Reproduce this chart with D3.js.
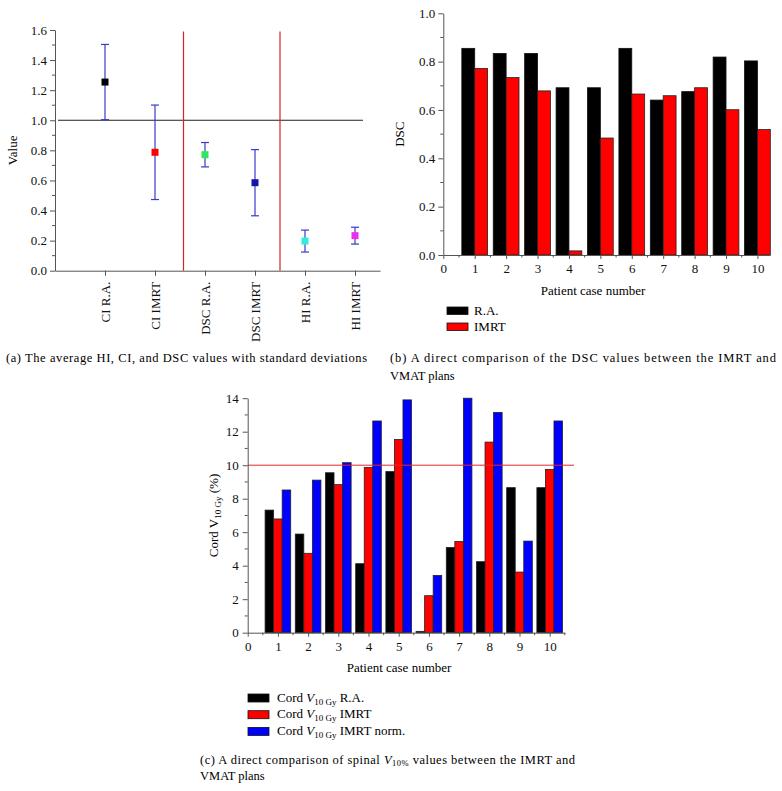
<!DOCTYPE html>
<html>
<head>
<meta charset="utf-8">
<script src="https://cdn.jsdelivr.net/npm/d3@7"></script>
<style>
  body { margin: 0; background: #fff; }
  svg { display: block; font-family: "Liberation Serif", "DejaVu Serif", serif; }
  .axis path, .axis line { stroke: #555; }
  .axis text { font-family: "Liberation Serif", serif; font-size: 13px; fill: #111; }
</style>
</head>
<body>
<svg id="chart" width="782" height="791"></svg>
<script>
// panel (a): means with standard deviations
const catsA = ["CI R.A.", "CI IMRT", "DSC R.A.", "DSC IMRT", "HI R.A.", "HI IMRT"];
const meanA = [1.254, 0.787, 0.771, 0.585, 0.197, 0.233];
const sdA = [0.25, 0.314, 0.081, 0.22, 0.073, 0.056];
const colorA = ["#000000", "#ff0000", "#2ee85a", "#1616a6", "#30ecdc", "#ee2eee"];
const dividersA = [2.57, 4.5];

// panel (b): DSC per patient
const patients = [1, 2, 3, 4, 5, 6, 7, 8, 9, 10];
const dscRA = [0.855, 0.834, 0.834, 0.692, 0.692, 0.855, 0.641, 0.676, 0.819, 0.803];
const dscIMRT = [0.772, 0.734, 0.679, 0.017, 0.484, 0.666, 0.659, 0.692, 0.601, 0.519];

// panel (c): cord V10Gy per patient
const cordRA = [7.32, 5.89, 9.55, 4.12, 9.62, 0.08, 5.09, 4.24, 8.66, 8.66];
const cordIMRT = [6.79, 4.74, 8.84, 9.87, 11.54, 2.21, 5.45, 11.38, 3.62, 9.75];
const cordNorm = [8.52, 9.11, 10.15, 12.64, 13.9, 3.42, 14.05, 13.15, 5.47, 12.64];

const svg = d3.select("#chart");

function minorTicks(g, scale, values, len, orient) {
  values.forEach(v => {
    if (orient === "left") {
      g.append("line").attr("x1", 0).attr("x2", -len)
        .attr("y1", scale(v)).attr("y2", scale(v)).attr("stroke", "#555");
    } else {
      g.append("line").attr("y1", 0).attr("y2", len)
        .attr("x1", scale(v)).attr("x2", scale(v)).attr("stroke", "#555");
    }
  });
}

// ---------- (a) ----------
const xA = d3.scaleLinear().domain([0, 6.5]).range([55, 380]);
const yA = d3.scaleLinear().domain([0, 1.6]).range([270.7, 30]);
const gA = svg.append("g");

gA.append("line").attr("x1", xA(0.06)).attr("x2", xA(6.16))
  .attr("y1", yA(1)).attr("y2", yA(1)).attr("stroke", "#222");

const yAxA = gA.append("g").attr("class", "axis").attr("transform", `translate(${xA(0)},0)`)
  .call(d3.axisLeft(yA).tickValues(d3.range(0, 1.61, 0.2)).tickFormat(d3.format(".1f")).tickSize(5).tickSizeOuter(0));
minorTicks(yAxA, yA, d3.range(0.1, 1.6, 0.2), 3, "left");
yAxA.selectAll("text").attr("x", -8);

const xAxA = gA.append("g").attr("class", "axis").attr("transform", `translate(0,${yA(0)})`)
  .call(d3.axisBottom(xA).tickValues(d3.range(1, 7)).tickFormat((d, i) => catsA[i]).tickSize(5).tickSizeOuter(0));
xAxA.selectAll("text").attr("transform", "rotate(-90)").attr("font-size", 12.5)
  .attr("text-anchor", "end").attr("x", -11).attr("y", 0).attr("dy", "0.35em");

gA.append("text").attr("transform", `translate(17,${yA(0.8)}) rotate(-90)`)
  .attr("text-anchor", "middle").attr("font-size", 13).text("Value");

catsA.forEach((c, i) => {
  const x = xA(i + 1);
  const g = gA.append("g").attr("stroke", "#3a3acb").attr("stroke-width", 1.2);
  g.append("line").attr("x1", x).attr("x2", x).attr("y1", yA(meanA[i] + sdA[i])).attr("y2", yA(meanA[i] - sdA[i]));
  [meanA[i] + sdA[i], meanA[i] - sdA[i]].forEach(v => {
    g.append("line").attr("x1", x - 4).attr("x2", x + 4).attr("y1", yA(v)).attr("y2", yA(v));
  });
  gA.append("rect").attr("x", x - 3.5).attr("y", yA(meanA[i]) - 3.5)
    .attr("width", 7).attr("height", 7).attr("fill", colorA[i]);
});

// red separators between the CI, DSC and HI groups
gA.selectAll("line.divider").data(dividersA).join("line").attr("class", "divider")
  .attr("x1", d => xA(d)).attr("x2", d => xA(d))
  .attr("y1", yA(1.59)).attr("y2", yA(0))
  .style("stroke", "#d0262b").style("stroke-width", 1.2);

svg.append("text").attr("x", 6).attr("y", 362).attr("font-size", 12.5)
  .attr("textLength", 361).attr("lengthAdjust", "spacing")
  .text("(a)  The average HI, CI, and DSC values with standard deviations");

// ---------- (b) ----------
const xB = d3.scaleLinear().domain([0, 10.4]).range([443.3, 770]);
const yB = d3.scaleLinear().domain([0, 1]).range([255, 13.3]);
const gB = svg.append("g");
const wB = 0.41;

patients.forEach((p, i) => {
  gB.append("rect").attr("x", xB(p - wB)).attr("width", xB(wB) - xB(0))
    .attr("y", yB(dscRA[i])).attr("height", yB(0) - yB(dscRA[i]))
    .attr("fill", "#000").attr("stroke", "#111").attr("stroke-width", 0.8);
  gB.append("rect").attr("x", xB(p)).attr("width", xB(wB) - xB(0))
    .attr("y", yB(dscIMRT[i])).attr("height", yB(0) - yB(dscIMRT[i]))
    .attr("fill", "#ff0000").attr("stroke", "#222").attr("stroke-width", 0.8);
});

const yAxB = gB.append("g").attr("class", "axis").attr("transform", `translate(${xB(0)},0)`)
  .call(d3.axisLeft(yB).tickValues(d3.range(0, 1.01, 0.2)).tickFormat(d3.format(".1f")).tickSize(5).tickSizeOuter(0));
minorTicks(yAxB, yB, d3.range(0.1, 1, 0.2), 3, "left");
yAxB.selectAll("text").attr("x", -8);

const xAxB = gB.append("g").attr("class", "axis").attr("transform", `translate(0,${yB(0)})`)
  .call(d3.axisBottom(xB).tickValues(d3.range(0, 11)).tickFormat(d3.format("d")).tickSize(4).tickSizeOuter(0));
minorTicks(xAxB, xB, d3.range(0.5, 10.5, 1), 2.5, "bottom");
xAxB.selectAll("text").attr("y", 9);

gB.append("text").attr("transform", `translate(404,${yB(0.5)}) rotate(-90)`)
  .attr("text-anchor", "middle").attr("font-size", 13).text("DSC");
gB.append("text").attr("x", 593).attr("y", 295).attr("text-anchor", "middle")
  .attr("font-size", 13).text("Patient case number");

const legB = [["R.A.", "#000"], ["IMRT", "#ff0000"]];
legB.forEach((d, i) => {
  gB.append("rect").attr("x", 447).attr("y", 307 + i * 16).attr("width", 21).attr("height", 7.5)
    .attr("fill", d[1]).attr("stroke", "#111").attr("stroke-width", 0.8);
  gB.append("text").attr("x", 474).attr("y", 314.5 + i * 16).attr("font-size", 13).text(d[0]);
});

svg.append("text").attr("x", 390).attr("y", 362).attr("font-size", 12.5)
  .attr("textLength", 386).attr("lengthAdjust", "spacing")
  .text("(b)  A direct comparison of the DSC values between the IMRT and");
svg.append("text").attr("x", 390).attr("y", 379.5).attr("font-size", 12.5).text("VMAT plans");

// ---------- (c) ----------
const xC = d3.scaleLinear().domain([0, 10.5]).range([247.7, 564.8]);
const yC = d3.scaleLinear().domain([0, 14]).range([632.7, 398.2]);
const gC = svg.append("g");
const wC = 0.283;
const seriesC = [[cordRA, "#000000", -1], [cordIMRT, "#ff0000", 0], [cordNorm, "#0000ff", 1]];

seriesC.forEach(([vals, col, off]) => {
  patients.forEach((p, i) => {
    const v = Math.min(vals[i], 14);
    gC.append("rect").attr("x", xC(p + off * wC - wC / 2)).attr("width", xC(wC) - xC(0))
      .attr("y", yC(v)).attr("height", yC(0) - yC(v))
      .attr("fill", col).attr("stroke", "#222").attr("stroke-width", 0.8);
  });
});

gC.append("line").attr("x1", xC(0)).attr("x2", 574)
  .attr("y1", yC(10)).attr("y2", yC(10)).attr("stroke", "#e8262b");

const yAxC = gC.append("g").attr("class", "axis").attr("transform", `translate(${xC(0)},0)`)
  .call(d3.axisLeft(yC).tickValues(d3.range(0, 15, 2)).tickFormat(d3.format("d")).tickSize(5).tickSizeOuter(0));
minorTicks(yAxC, yC, d3.range(1, 14, 2), 3, "left");
yAxC.selectAll("text").attr("x", -9);

const xAxC = gC.append("g").attr("class", "axis").attr("transform", `translate(0,${yC(0)})`)
  .call(d3.axisBottom(xC).tickValues(d3.range(0, 11)).tickFormat(d3.format("d")).tickSize(4).tickSizeOuter(0));
minorTicks(xAxC, xC, d3.range(0.5, 10.6, 1), 2.5, "bottom");
xAxC.selectAll("text").attr("y", 9);

const yLabC = gC.append("text").attr("transform", `translate(218,${yC(7)}) rotate(-90)`)
  .attr("text-anchor", "middle").attr("font-size", 13);
yLabC.append("tspan").text("Cord ");
yLabC.append("tspan").text("V");
yLabC.append("tspan").attr("font-size", 9).attr("dy", 3).text("10 Gy");
yLabC.append("tspan").attr("dy", -3).text(" (%)");

gC.append("text").attr("x", 399).attr("y", 672).attr("text-anchor", "middle")
  .attr("font-size", 13).text("Patient case number");

const legC = [["R.A.", "#000000"], ["IMRT", "#ff0000"], ["IMRT norm.", "#0000ff"]];
legC.forEach((d, i) => {
  const y0 = 694 + i * 16.7;
  gC.append("rect").attr("x", 248).attr("y", y0).attr("width", 21).attr("height", 8)
    .attr("fill", d[1]).attr("stroke", "#111").attr("stroke-width", 0.8);
  const t = gC.append("text").attr("x", 277).attr("y", y0 + 7.5).attr("font-size", 13);
  t.append("tspan").text("Cord ");
  t.append("tspan").attr("font-style", "italic").text("V");
  t.append("tspan").attr("font-size", 9).attr("dy", 3).text("10 Gy");
  t.append("tspan").attr("dy", -3).text(" " + d[0]);
});

const capC = svg.append("text").attr("x", 200).attr("y", 763.5).attr("font-size", 12.5)
  .attr("textLength", 375).attr("lengthAdjust", "spacing");
capC.append("tspan").text("(c)  A direct comparison of spinal ");
capC.append("tspan").attr("font-style", "italic").text("V");
capC.append("tspan").attr("font-size", 8.5).attr("dy", 2.5).text("10%");
capC.append("tspan").attr("dy", -2.5).text(" values between the IMRT and");
svg.append("text").attr("x", 200).attr("y", 780).attr("font-size", 12.5).text("VMAT plans");
</script>
</body>
</html>
